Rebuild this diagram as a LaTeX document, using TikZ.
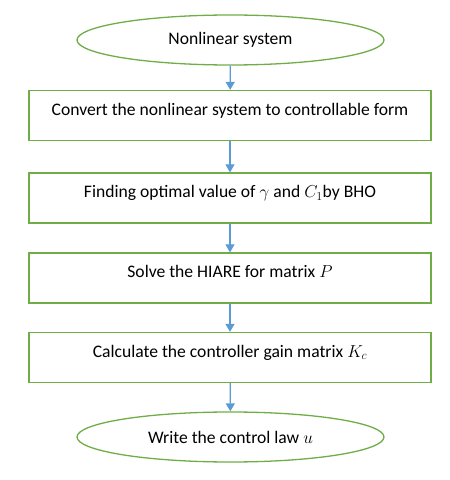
\documentclass[tikz,border=0pt]{standalone}
\usepackage{fontspec}
\setmainfont{Carlito}
\usetikzlibrary{shapes.geometric,arrows.meta}
\definecolor{boxgreen}{HTML}{70AD47}
\definecolor{arrowblue}{HTML}{5B9BD5}
\begin{document}
\begin{tikzpicture}[x=1pt,y=1pt,
  every node/.style={font=\fontsize{17.6}{21}\selectfont},
  terminal/.style={ellipse,draw=boxgreen,line width=1.3pt,minimum width=307pt,minimum height=50pt,inner sep=0pt},
  stepbox/.style={rectangle,draw=boxgreen,line width=1.3pt,minimum width=402pt,minimum height=50pt,inner sep=0pt,text depth=13pt},
  flow/.style={draw=arrowblue,line width=1.3pt,-{Triangle[width=9pt,length=8pt]}}]
  \useasboundingbox (0,0) rectangle (450,480);
  \node[terminal] (start) at (230.5,440) {Nonlinear system};
  \node[stepbox] (convert) at (230,364.5) {Convert the nonlinear system to controllable form};
  \node[stepbox] (bho) at (230,282) {Finding optimal value of $\gamma$ and $C_1$by BHO};
  \node[stepbox] (hiare) at (230,202) {Solve the HIARE for matrix $P$};
  \node[stepbox] (gain) at (230,122.5) {Calculate the controller gain matrix $K_c$};
  \node[terminal] (law) at (230.5,43) {Write the control law $u$};
  \draw[flow] (start) -- (convert);
  \draw[flow] (convert) -- (bho);
  \draw[flow] (bho) -- (hiare);
  \draw[flow] (hiare) -- (gain);
  \draw[flow] (gain) -- (law);
\end{tikzpicture}
\end{document}
